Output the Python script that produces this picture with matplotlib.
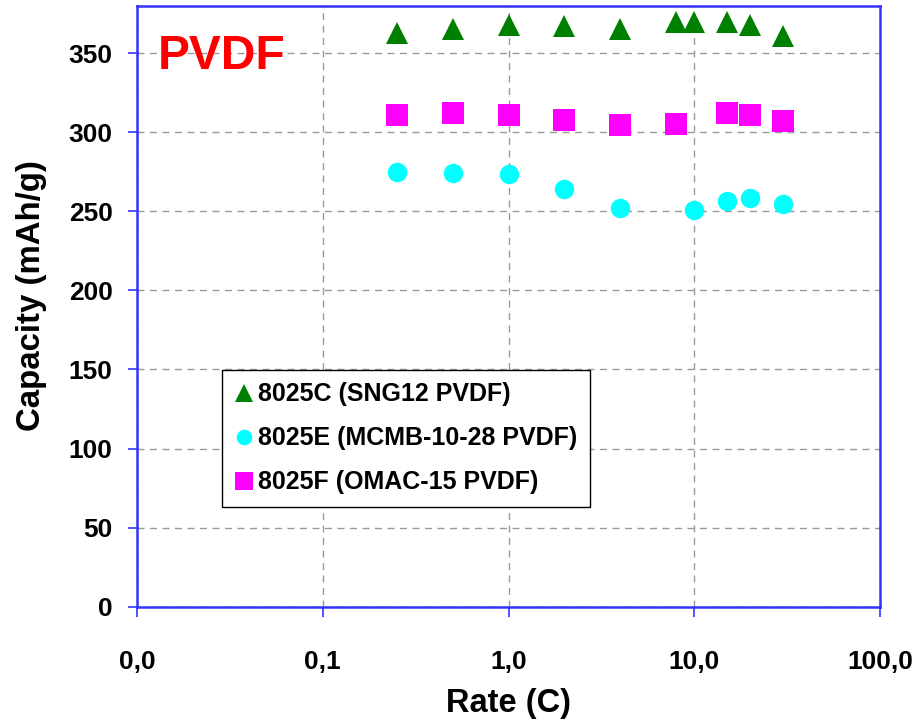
import numpy as np
import matplotlib.pyplot as plt
from matplotlib.ticker import FixedLocator, FixedFormatter, NullLocator

plt.rcParams['font.family'] = ['Liberation Sans', 'DejaVu Sans']

# Data
rate_c = [0.25, 0.5, 1, 2, 4, 8, 10, 15, 20, 30]
cap_c = [362.6, 365.3, 367.9, 367.0, 365.2, 369.6, 369.6, 369.6, 367.8, 360.8]

rate_e = [0.25, 0.5, 1, 2, 4, 10, 15, 20, 30]
cap_e = [275.1, 274.2, 273.4, 264.4, 252.0, 251.1, 256.3, 258.2, 254.4]

rate_f = [0.25, 0.5, 1, 2, 4, 8, 15, 20, 30]
cap_f = [310.6, 312.2, 310.6, 307.9, 304.3, 305.4, 312.4, 310.6, 307.0]

x_ticks = [0.01, 0.1, 1, 10, 100]
x_labels = ['0,0', '0,1', '1,0', '10,0', '100,0']

fig = plt.figure(figsize=(9.15, 7.21), dpi=100)
ax = fig.add_axes([137/915, (721-606.7)/721, 743/915, 601/721])

ax.plot(rate_c, cap_c, '^', color='#008000', markersize=16.5, markeredgewidth=0,
        label='8025C (SNG12 PVDF)', zorder=3)
ax.plot(rate_e, cap_e, 'o', color='#00FFFF', markersize=14, markeredgewidth=0,
        label='8025E (MCMB-10-28 PVDF)', zorder=3)
ax.plot(rate_f, cap_f, 's', color='#FF00FF', markersize=15.8, markeredgewidth=0,
        label='8025F (OMAC-15 PVDF)', zorder=3)

ax.set_xscale('log')
ax.set_xlim(0.01, 100)
ax.set_ylim(0, 380)
ax.xaxis.set_major_locator(FixedLocator(x_ticks))
ax.xaxis.set_major_formatter(FixedFormatter(x_labels))
ax.xaxis.set_minor_locator(NullLocator())
ax.set_yticks(np.arange(0, 351, 50))

ax.grid(True, color='#999999', linestyle=(0, (5, 4)), linewidth=1)
ax.set_axisbelow(True)

for s in ax.spines.values():
    s.set_color('#3333FF')
    s.set_linewidth(1.8)

ax.tick_params(axis='both', direction='out', color='#3333FF', width=1.2,
               labelsize=19)
ax.tick_params(axis='y', length=6.5, pad=11)
ax.tick_params(axis='x', length=7, pad=24)
for lab in ax.get_xticklabels() + ax.get_yticklabels():
    lab.set_fontweight('bold')

ax.set_xlabel('Rate (C)', fontsize=23.5, fontweight='bold', labelpad=10)
ax.set_ylabel('Capacity (mAh/g)', fontsize=23.8, fontweight='bold')
ax.yaxis.set_label_coords(-0.121, 0.517)

ax.text(0.028, 0.8947, 'PVDF', transform=ax.transAxes, color='red', fontsize=34.5,
        fontweight='bold', va='baseline', ha='left')

leg = ax.legend(loc='upper left', bbox_to_anchor=(0.1144, 0.394), borderaxespad=0,
                fancybox=False, framealpha=1, edgecolor='black', markerscale=0.8,
                handletextpad=0.15, handlelength=0.8, borderpad=0.5,
                labelspacing=0.8, prop={'weight': 'bold', 'size': 18})
leg.get_frame().set_linewidth(1)

fig.savefig('out.png', dpi=100)
